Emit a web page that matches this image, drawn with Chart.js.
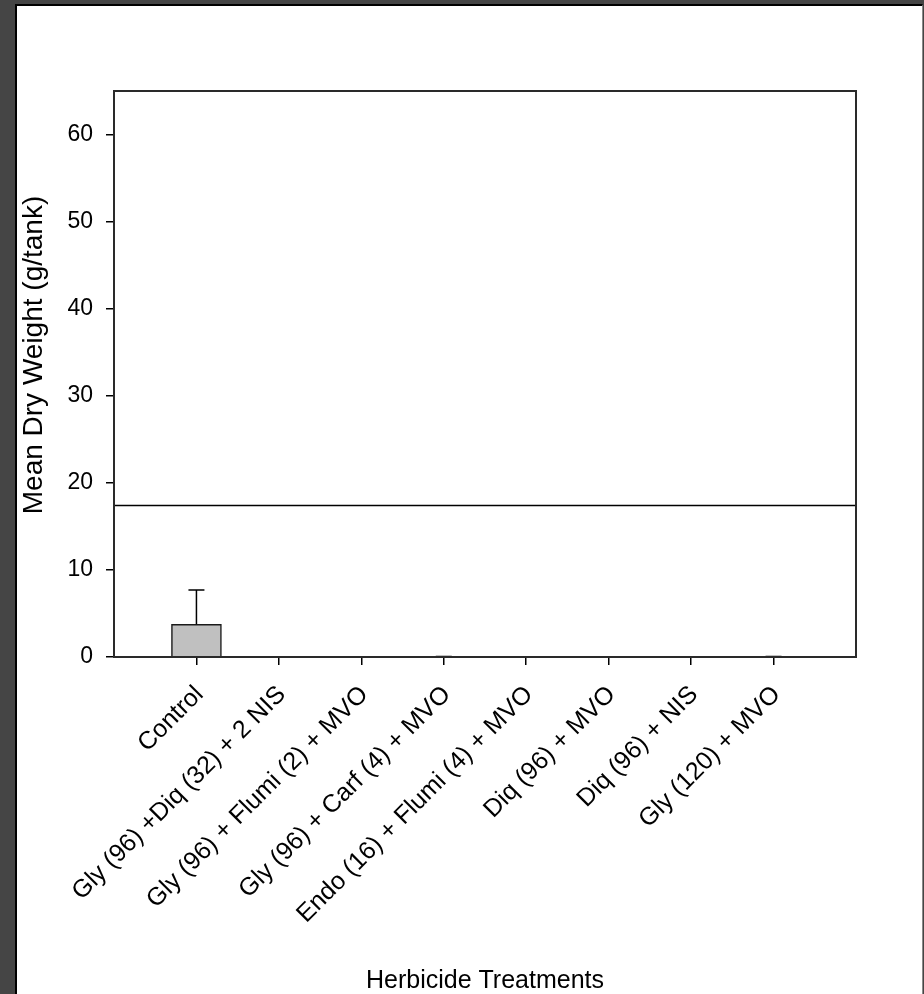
<!DOCTYPE html>
<html>
<head>
<meta charset="utf-8">
<title>Mean Dry Weight by Herbicide Treatment</title>
<script src="https://cdn.jsdelivr.net/npm/chart.js@4.4.1/dist/chart.umd.min.js"></script>
<style>
  html, body { margin: 0; padding: 0; background: #454545; }
  body { width: 924px; height: 994px; position: relative; overflow: hidden; }
  #sheet {
    position: absolute; left: 15px; top: 4px; width: 905px; height: 992px;
    background: #fff; border-left: 2px solid #000; border-top: 2px solid #000;
    border-right: 1px solid #8a8a8a;
  }
  #wrap { position: absolute; left: 0; top: 0; width: 924px; height: 994px; }
</style>
</head>
<body>
<div id="sheet"></div>
<div id="wrap"><canvas id="chart" width="924" height="994"></canvas></div>
<script>
// Values.
const treatments = [
  "Control",
  "Gly (96) +Diq (32) + 2 NIS",
  "Gly (96) + Flumi (2) + MVO",
  "Gly (96) + Carf (4) + MVO",
  "Endo (16) + Flumi (4) + MVO",
  "Diq (96) + MVO",
  "Diq (96) + NIS",
  "Gly (120) + MVO",
];
const meanDryWeight = [3.75, 0, 0, 0, 0, 0, 0, 0];
const stdError = [3.95, 0, 0, 0.05, 0, 0, 0, 0.05];
const referenceLevel = 17.4;
const yTicks = [0, 10, 20, 30, 40, 50, 60];
const yTitle = "Mean Dry Weight (g/tank)";

const FAMILY = '"Liberation Sans", Arial, Helvetica, sans-serif';
const INK = "#000";
const FRAME = "#2a2a2a";

// Upper error bars, the horizontal reference level and the closed plot frame.
const plotExtras = {
  id: "plotExtras",
  afterDatasetsDraw(chart) {
    const { ctx, chartArea: a, scales: { x, y } } = chart;
    ctx.save();
    ctx.strokeStyle = INK;
    ctx.lineWidth = 1.5;

    const ry = y.getPixelForValue(referenceLevel);
    ctx.beginPath();
    ctx.moveTo(a.left, ry);
    ctx.lineTo(a.right, ry);
    ctx.stroke();

    meanDryWeight.forEach((m, i) => {
      const e = stdError[i];
      if (!e) return;
      const px = x.getPixelForValue(i + 1);
      const y0 = y.getPixelForValue(m);
      const y1 = y.getPixelForValue(m + e);
      ctx.beginPath();
      ctx.moveTo(px, y0);
      ctx.lineTo(px, y1);
      ctx.moveTo(px - 8, y1);
      ctx.lineTo(px + 8, y1);
      ctx.stroke();
    });

    ctx.strokeStyle = FRAME;
    ctx.lineWidth = 2;
    ctx.strokeRect(a.left, a.top, a.right - a.left, a.bottom - a.top);
    ctx.restore();
  },
  // The original centres its y title a little above the middle of the axis.
  afterDraw(chart) {
    const { ctx } = chart;
    ctx.save();
    ctx.translate(42, 355);
    ctx.rotate(-Math.PI / 2);
    ctx.font = `28px ${FAMILY}`;
    ctx.fillStyle = INK;
    ctx.textAlign = "center";
    ctx.textBaseline = "alphabetic";
    ctx.fillText(yTitle, 0, 0);
    ctx.restore();
  },
};

new Chart(document.getElementById("chart"), {
  type: "bar",
  data: {
    datasets: [
      {
        data: meanDryWeight.map((v, i) => ({ x: i + 1, y: v })),
        backgroundColor: "#c0c0c0",
        borderColor: "#1a1a1a",
        borderWidth: 1.5,
        borderSkipped: "bottom",
        barThickness: 50,
      },
    ],
  },
  options: {
    responsive: false,
    animation: false,
    events: [],
    layout: { padding: { left: 17, top: 91, right: 68, bottom: 0 } },
    plugins: { legend: { display: false }, tooltip: { enabled: false } },
    scales: {
      x: {
        type: "linear",
        offset: false,
        min: 0,
        max: 9,
        afterBuildTicks: (s) => { s.ticks = treatments.map((_, i) => ({ value: i + 1 })); },
        afterFit: (s) => { s.height = 994 - 657; s.paddingLeft = 0; s.paddingRight = 0; },
        ticks: {
          autoSkip: false,
          minRotation: 45,
          maxRotation: 45,
          padding: 15,
          labelOffset: 3,
          color: INK,
          font: { family: FAMILY, size: 25 },
          callback: (v) => treatments[v - 1] ?? "",
        },
        grid: {
          offset: false, drawOnChartArea: false, drawTicks: true,
          tickLength: 8, color: INK, lineWidth: 1.5,
        },
        border: { display: false },
        title: {
          display: true,
          text: "Herbicide Treatments",
          color: INK,
          font: { family: FAMILY, size: 25, lineHeight: 1 },
          padding: { top: 0, bottom: 0 },
        },
      },
      y: {
        min: 0,
        max: 65,
        afterBuildTicks: (s) => { s.ticks = yTicks.map((v) => ({ value: v })); },
        afterFit: (s) => { s.width = 97; s.paddingTop = 0; s.paddingBottom = 0; },
        ticks: { padding: 13, color: INK, font: { family: FAMILY, size: 23 } },
        grid: { drawOnChartArea: false, drawTicks: true, tickLength: 8, color: INK, lineWidth: 1.5 },
        border: { display: false },
        title: { display: false },
      },
    },
  },
  plugins: [plotExtras],
});
</script>
</body>
</html>
